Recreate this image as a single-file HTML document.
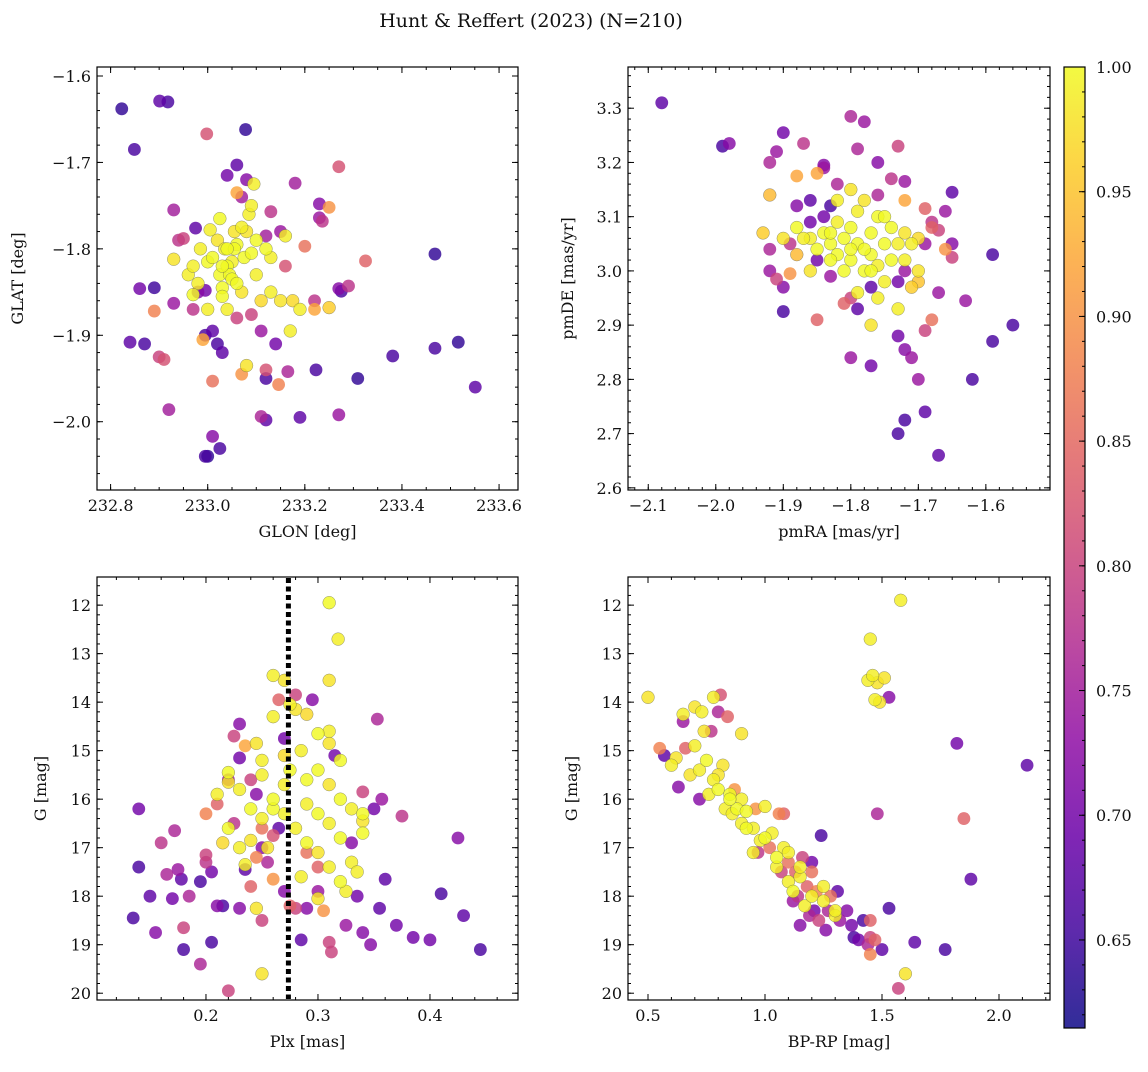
<!DOCTYPE html>
<html><head><meta charset="utf-8"><style>
body{margin:0;background:#fff}
svg text{font-family:"DejaVu Serif","Liberation Serif",serif;fill:#111}
</style></head><body>
<svg id="chart" xmlns="http://www.w3.org/2000/svg" width="1148" height="1067" viewBox="0 0 1148 1067">
<defs><linearGradient id="cg" x1="0" y1="1" x2="0" y2="0"></linearGradient></defs>
<text x="531" y="27" font-size="19" text-anchor="middle">Hunt &amp; Reffert (2023) (N=210)</text>
</svg>
<script>
const tlData=[[232.823,-1.638,.64],[232.849,-1.685,.66],[232.901,-1.629,.68],[232.918,-1.630,.66],[233.078,-1.662,.64],[232.998,-1.667,.82],[232.89,-1.845,.65],[232.86,-1.846,.7],[232.84,-1.908,.68],[232.87,-1.91,.66],[232.89,-1.872,.88],[232.90,-1.925,.8],[232.91,-1.928,.82],[232.92,-1.986,.75],[232.995,-2.04,.66],[233.0,-2.04,.64],[233.01,-2.017,.72],[233.025,-2.031,.66],[233.468,-1.806,.64],[233.381,-1.924,.66],[233.468,-1.915,.66],[233.516,-1.908,.64],[233.551,-1.96,.68],[233.309,-1.95,.64],[233.27,-1.992,.74],[233.19,-1.995,.68],[233.12,-1.998,.68],[233.11,-1.994,.76],[233.165,-1.942,.76],[233.223,-1.94,.66],[233.146,-1.957,.88],[233.27,-1.705,.82],[233.18,-1.724,.75],[233.23,-1.748,.72],[233.23,-1.764,.74],[233.236,-1.768,.78],[233.325,-1.814,.84],[233.27,-1.846,.72],[233.275,-1.849,.66],[233.29,-1.843,.78],[232.93,-1.755,.75],[232.94,-1.79,.78],[232.95,-1.788,.8],[232.93,-1.863,.74],[232.975,-1.776,.68],[232.995,-1.848,.7],[232.98,-1.85,.72],[232.995,-1.9,.66],[233.01,-1.895,.68],[233.02,-1.91,.66],[233.01,-1.953,.86],[233.03,-1.92,.68],[233.07,-1.945,.9],[233.12,-1.95,.66],[233.12,-1.94,.82],[233.14,-1.91,.7],[233.04,-1.715,.7],[233.06,-1.703,.68],[233.08,-1.72,.72],[233.06,-1.735,.92],[233.07,-1.74,.75],[233.13,-1.757,.78],[233.15,-1.78,.74],[233.16,-1.82,.82],[233.2,-1.797,.86],[233.22,-1.86,.78],[233.22,-1.87,.92],[233.25,-1.868,.96],[233.25,-1.752,.9],[233.12,-1.785,.75],[233.11,-1.895,.74],[233.09,-1.876,.8],[233.06,-1.88,.8],[232.97,-1.87,.78],[232.99,-1.905,.92],[232.93,-1.812,.98],[232.96,-1.83,.99],[232.97,-1.853,1],[232.985,-1.8,.99],[233.0,-1.815,1],[233.005,-1.778,.99],[233.01,-1.81,1],[233.02,-1.79,.98],[233.025,-1.83,1],[233.03,-1.845,1],[233.035,-1.8,.99],[233.04,-1.82,1],[233.045,-1.83,1],[233.05,-1.835,1],[233.05,-1.815,.99],[233.055,-1.78,.98],[233.06,-1.795,1],[233.06,-1.84,1],[233.07,-1.775,.99],[233.075,-1.81,1],[233.08,-1.78,.98],[233.085,-1.76,.99],[233.09,-1.75,.99],[233.09,-1.805,1],[233.1,-1.83,.99],[233.1,-1.79,1],[233.12,-1.8,1],[233.13,-1.85,.99],[233.15,-1.86,.98],[233.16,-1.785,.99],[233.17,-1.895,.99],[233.19,-1.87,.99],[233.175,-1.86,.97],[233.08,-1.935,.98],[233.0,-1.87,.99],[232.97,-1.82,.99],[233.025,-1.765,1],[233.03,-1.855,1],[233.07,-1.85,.98],[233.11,-1.86,.97],[233.04,-1.87,.99],[232.98,-1.84,.99],[233.095,-1.725,.99],[233.13,-1.81,.99],[233.055,-1.8,1],[233.04,-1.8,1],[233.03,-1.82,1]];
const trData=[[-2.08,3.31,.68],[-1.99,3.23,.66],[-1.98,3.235,.72],[-1.9,3.255,.7],[-1.92,3.2,.76],[-1.91,3.22,.74],[-1.87,3.235,.78],[-1.84,3.19,.74],[-1.84,3.195,.72],[-1.82,3.16,.76],[-1.8,3.285,.76],[-1.78,3.275,.74],[-1.79,3.225,.76],[-1.76,3.2,.72],[-1.73,3.23,.8],[-1.74,3.17,.78],[-1.72,3.165,.74],[-1.65,3.145,.68],[-1.66,3.11,.74],[-1.59,3.03,.66],[-1.56,2.9,.66],[-1.59,2.87,.66],[-1.62,2.8,.66],[-1.63,2.945,.74],[-1.67,2.96,.74],[-1.68,2.91,.86],[-1.69,2.89,.8],[-1.7,2.8,.74],[-1.69,2.74,.68],[-1.67,2.66,.68],[-1.72,2.725,.66],[-1.73,2.7,.66],[-1.71,2.84,.74],[-1.72,2.855,.72],[-1.73,2.88,.7],[-1.77,2.825,.7],[-1.8,2.84,.74],[-1.85,2.91,.84],[-1.9,2.925,.66],[-1.9,2.97,.72],[-1.92,3.0,.74],[-1.92,3.04,.76],[-1.91,2.985,.8],[-1.89,2.995,.9],[-1.93,3.07,.96],[-1.92,3.14,.94],[-1.88,3.175,.92],[-1.85,3.18,.92],[-1.86,3.13,.68],[-1.88,3.12,.72],[-1.84,3.1,.7],[-1.83,3.12,.66],[-1.86,3.09,.7],[-1.76,3.14,.76],[-1.68,3.09,.78],[-1.67,3.075,.8],[-1.68,3.08,.84],[-1.65,3.05,.72],[-1.65,3.025,.8],[-1.66,3.04,.9],[-1.72,3.13,.92],[-1.69,3.115,.84],[-1.69,3.05,.74],[-1.72,3.0,.74],[-1.73,2.98,.7],[-1.77,2.97,.68],[-1.79,2.93,.68],[-1.81,2.94,.84],[-1.8,2.95,.8],[-1.83,2.99,.74],[-1.85,3.02,.7],[-1.88,3.03,.94],[-1.89,3.05,.78],[-1.9,3.06,.98],[-1.88,3.08,1],[-1.86,3.06,.99],[-1.85,3.04,1],[-1.84,3.07,1],[-1.83,3.05,1],[-1.82,3.09,.99],[-1.82,3.03,1],[-1.81,3.06,1],[-1.8,3.08,1],[-1.8,3.02,1],[-1.79,3.11,.99],[-1.79,3.05,1],[-1.78,3.13,.98],[-1.78,3.0,1],[-1.77,3.07,1],[-1.77,3.03,1],[-1.76,3.1,1],[-1.76,3.01,.99],[-1.75,3.05,1],[-1.75,2.98,.99],[-1.74,3.08,1],[-1.74,3.02,1],[-1.73,3.05,.99],[-1.72,3.07,.98],[-1.71,3.05,.99],[-1.7,3.06,.97],[-1.72,3.02,.99],[-1.76,2.95,.99],[-1.77,2.9,.98],[-1.79,2.96,.99],[-1.81,3.0,1],[-1.83,3.02,1],[-1.86,3.0,.98],[-1.87,3.06,.99],[-1.8,3.15,.98],[-1.82,3.13,.99],[-1.73,2.93,.99],[-1.7,3.0,.98],[-1.78,3.04,1],[-1.8,3.04,1],[-1.83,3.07,1],[-1.75,3.1,1],[-1.77,3.0,1],[-1.71,2.97,.96],[-1.7,2.98,.95]];
const blData=[[0.135,18.45,.66],[0.14,17.4,.66],[0.14,16.2,.7],[0.15,18.0,.68],[0.155,18.75,.72],[0.16,16.9,.78],[0.165,17.55,.76],[0.17,18.05,.7],[0.175,17.45,.74],[0.172,16.65,.76],[0.178,17.65,.68],[0.18,19.1,.66],[0.18,18.65,.8],[0.185,18.0,.76],[0.195,17.7,.66],[0.195,19.4,.76],[0.2,17.3,.78],[0.205,17.5,.7],[0.205,18.95,.66],[0.2,17.15,.8],[0.21,18.2,.72],[0.215,18.2,.66],[0.22,19.95,.8],[0.23,18.25,.72],[0.235,17.45,.68],[0.24,17.8,.84],[0.25,18.5,.8],[0.25,17.0,.72],[0.255,17.3,.76],[0.26,17.65,.9],[0.265,16.6,.68],[0.27,17.9,.72],[0.275,18.2,.84],[0.28,18.25,.8],[0.285,18.9,.68],[0.29,18.25,.72],[0.3,17.9,.74],[0.305,18.3,.9],[0.31,18.95,.8],[0.312,19.15,.8],[0.325,18.6,.74],[0.335,18.0,.7],[0.34,18.75,.72],[0.347,19.0,.72],[0.35,16.2,.7],[0.353,14.35,.76],[0.355,18.25,.68],[0.357,16.0,.74],[0.36,17.65,.68],[0.37,18.6,.7],[0.375,16.35,.78],[0.385,18.85,.7],[0.4,18.9,.7],[0.41,17.95,.66],[0.425,16.8,.72],[0.43,18.4,.68],[0.445,19.1,.66],[0.23,14.45,.72],[0.225,14.7,.8],[0.23,15.15,.7],[0.22,15.6,.74],[0.225,16.5,.78],[0.24,15.6,.8],[0.245,15.9,.72],[0.235,14.9,.92],[0.27,14.75,.7],[0.265,13.95,.84],[0.28,13.85,.8],[0.295,13.95,.72],[0.33,16.9,.72],[0.34,15.85,.8],[0.315,15.1,.7],[0.2,16.3,.88],[0.21,16.1,.84],[0.25,16.6,.86],[0.26,16.75,.82],[0.245,17.2,.88],[0.29,17.1,.86],[0.3,17.4,.84],[0.31,11.95,1],[0.318,12.7,.99],[0.31,13.55,.98],[0.26,13.45,.99],[0.27,13.55,.98],[0.275,14.05,.99],[0.28,14.15,.98],[0.29,14.25,.97],[0.3,14.65,1],[0.31,14.6,.99],[0.31,14.85,.98],[0.285,15.0,.99],[0.27,15.1,.97],[0.25,15.2,.99],[0.22,15.45,1],[0.22,15.65,.98],[0.23,15.8,.99],[0.24,16.2,1],[0.25,16.4,.99],[0.26,16.2,1],[0.27,15.7,.99],[0.29,16.1,.99],[0.3,15.4,1],[0.31,15.7,.98],[0.32,16.0,1],[0.33,16.2,.99],[0.34,16.45,.98],[0.34,16.7,1],[0.33,17.3,.99],[0.32,17.7,1],[0.31,17.4,.99],[0.3,17.1,.98],[0.29,16.9,1],[0.28,16.6,.99],[0.27,16.3,.99],[0.26,16.0,1],[0.25,15.5,.99],[0.245,14.85,.98],[0.23,17.0,.99],[0.24,16.85,.98],[0.235,17.35,.99],[0.22,16.6,1],[0.21,15.9,.99],[0.3,16.3,1],[0.31,16.5,.99],[0.32,16.8,1],[0.285,17.6,.99],[0.245,18.25,.98],[0.25,19.6,.98],[0.32,15.2,1],[0.26,14.3,.99],[0.275,15.4,1],[0.335,17.5,.99],[0.325,17.9,.99],[0.3,18.05,.98],[0.29,15.6,1],[0.34,16.3,1],[0.255,17.0,.98],[0.215,16.9,.97]];
const brData=[[0.5,13.9,.98],[0.55,14.95,.88],[0.57,15.1,.68],[0.6,15.3,.99],[0.62,15.15,.98],[0.63,15.75,.72],[0.65,14.4,.74],[0.65,14.25,.99],[0.66,14.95,.84],[0.68,15.5,.98],[0.7,14.1,.98],[0.7,14.9,.99],[0.72,15.4,.99],[0.72,16.0,.72],[0.73,14.2,.99],[0.74,14.6,.98],[0.75,15.2,1],[0.76,15.9,.99],[0.77,14.6,.78],[0.78,15.6,.99],[0.78,13.9,.99],[0.8,14.2,.76],[0.8,15.8,1],[0.81,13.85,.82],[0.82,15.3,.98],[0.83,16.2,.99],[0.84,14.3,.84],[0.85,15.9,1],[0.86,16.3,.99],[0.87,15.8,.9],[0.88,16.2,1],[0.9,14.65,.98],[0.9,16.0,.99],[0.9,16.5,.99],[0.92,16.25,1],[0.95,16.6,.99],[0.96,16.2,.9],[0.97,17.1,.78],[0.98,16.85,.99],[1.0,16.15,.99],[1.0,16.8,1],[1.02,17.0,.86],[1.03,16.7,.99],[1.05,17.2,1],[1.06,16.3,.88],[1.07,17.5,.8],[1.08,17.0,.99],[1.1,17.3,.86],[1.1,17.7,.99],[1.12,17.9,1],[1.13,17.5,.84],[1.14,18.0,.78],[1.15,17.6,.99],[1.16,17.2,.8],[1.17,18.2,.99],[1.18,17.8,.84],[1.19,18.4,.76],[1.2,18.0,.99],[1.2,17.5,.86],[1.21,18.3,.7],[1.22,17.9,.88],[1.23,18.5,.8],[1.24,16.75,.66],[1.25,18.1,.99],[1.26,18.7,.72],[1.27,18.3,.76],[1.28,18.0,.86],[1.3,18.4,.99],[1.31,17.9,.68],[1.32,18.5,.74],[1.35,18.3,.72],[1.37,18.6,.7],[1.38,18.85,.66],[1.4,18.9,.7],[1.42,18.5,.66],[1.44,19.0,.76],[1.45,19.2,.88],[1.45,18.85,.8],[1.47,18.9,.84],[1.5,19.1,.68],[1.53,18.25,.66],[1.57,19.9,.8],[1.6,19.6,.98],[1.64,18.95,.68],[1.77,19.1,.66],[1.88,17.65,.68],[1.82,14.85,.7],[1.85,16.4,.84],[2.12,15.3,.68],[1.53,13.9,.72],[1.48,16.3,.76],[1.58,11.9,.99],[1.45,12.7,.99],[1.44,13.55,.99],[1.46,13.45,.99],[1.48,13.6,.98],[1.51,13.5,.98],[1.47,13.95,.99],[1.49,14.0,.98],[0.95,17.1,.99],[1.1,17.1,.99],[1.15,17.4,.99],[1.25,17.8,.99],[1.3,18.3,.99],[0.85,16.0,1],[0.8,15.5,.98],[0.92,16.6,1],[1.05,17.4,.99],[1.2,17.3,.7],[1.12,18.1,.74],[1.08,16.3,.84],[1.15,18.6,.72],[1.45,18.5,.84]];
const plxLine=0.2736;
const cbTicks=[0.65,0.70,0.75,0.80,0.85,0.90,0.95,1.00];
const cbMin=0.6147, cbMax=1.0;

const NS="http://www.w3.org/2000/svg";
const svg=document.getElementById('chart');
function mk(tag,attrs,parent){const e=document.createElementNS(NS,tag);for(const k in attrs)e.setAttribute(k,attrs[k]);(parent||svg).appendChild(e);return e;}
const stops=[[0,"#0d0887"],[.1,"#41049d"],[.2,"#6a00a8"],[.3,"#8f0da4"],[.4,"#b12a90"],[.5,"#cc4778"],[.6,"#e16462"],[.7,"#f2844b"],[.8,"#fca636"],[.9,"#fcce25"],[1,"#f0f921"]];
function hx(h){return [1,3,5].map(i=>parseInt(h.substr(i,2),16));}
function plasma(t){t=Math.max(0,Math.min(1,t));for(let i=1;i<stops.length;i++){if(t<=stops[i][0]){const a=stops[i-1],b=stops[i];const f=(t-a[0])/(b[0]-a[0]);const c1=hx(a[1]),c2=hx(b[1]);return "rgb("+c1.map((v,j)=>Math.round(v+(c2[j]-v)*f)).join(",")+")";}}return stops[10][1];}
function col(p){return plasma((p-cbMin)/(cbMax-cbMin));}
const grad=document.getElementById('cg');
for(let i=0;i<=20;i++){mk('stop',{offset:(i/20),'stop-color':plasma(i/20),'stop-opacity':0.85},grad);}
function fmt(v,d){let s=v.toFixed(d);return s.replace('-','\u2212');}

function panel(name,box,xr,yr,xMaj,xMin,yMaj,yMin,xd,yd,xlab,ylab,data,yInvert,yTitleX){
  const [L,T,R,B]=box;
  const g=mk('g',{});
  
  
  const sx=v=>L+(v-xr[0])/(xr[1]-xr[0])*(R-L);
  const sy=yInvert?(v=>T+(v-yr[0])/(yr[1]-yr[0])*(B-T)):(v=>B-(v-yr[0])/(yr[1]-yr[0])*(B-T));
  const cp=mk('clipPath',{id:'cp-'+name},g);mk('rect',{x:L,y:T,width:R-L,height:B-T},cp);
  const pts=mk('g',{'clip-path':'url(#cp-'+name+')'},g);
  
  
  const sorted=data.slice().sort((a,b)=>a[2]-b[2]);
  for(const d of sorted){
    const c=mk('circle',{cx:sx(d[0]),cy:sy(d[1]),r:6.4,fill:col(d[2]),'fill-opacity':0.82,stroke:'#555','stroke-width':0.45,'stroke-opacity':d[2]>0.93?0.7:0},pts);
    
    
  }
  const ax=mk('g',{},g);
  
  
  mk('rect',{x:L,y:T,width:R-L,height:B-T,fill:'none',stroke:'#000','stroke-width':1.2},ax);
  function ticks(min,max,step){const out=[];const s=Math.ceil(min/step-1e-9);for(let k=s;k*step<=max+1e-9;k++)out.push(k*step);return out;}
  ticks(xr[0],xr[1],xMin).forEach(v=>{const x=sx(v);mk('line',{x1:x,x2:x,y1:B,y2:B-3,stroke:'#000'},ax);mk('line',{x1:x,x2:x,y1:T,y2:T+3,stroke:'#000'},ax);});
  ticks(xr[0],xr[1],xMaj).forEach(v=>{const x=sx(v);mk('line',{x1:x,x2:x,y1:B,y2:B-6,stroke:'#000'},ax);mk('line',{x1:x,x2:x,y1:T,y2:T+6,stroke:'#000'},ax);
    const t=mk('text',{x:x,y:B+21,'font-size':16,'text-anchor':'middle'},ax);t.textContent=fmt(v,xd);
    
    });
  const ylo=Math.min(yr[0],yr[1]),yhi=Math.max(yr[0],yr[1]);
  ticks(ylo,yhi,yMin).forEach(v=>{const y=sy(v);mk('line',{x1:L,x2:L+3,y1:y,y2:y,stroke:'#000'},ax);mk('line',{x1:R,x2:R-3,y1:y,y2:y,stroke:'#000'},ax);});
  ticks(ylo,yhi,yMaj).forEach(v=>{const y=sy(v);mk('line',{x1:L,x2:L+6,y1:y,y2:y,stroke:'#000'},ax);mk('line',{x1:R,x2:R-6,y1:y,y2:y,stroke:'#000'},ax);
    const t=mk('text',{x:L-6,y:y+6,'font-size':16,'text-anchor':'end'},ax);t.textContent=fmt(v,yd);
    
    });
  const xl=mk('text',{x:(L+R)/2,y:B+47,'font-size':16,'text-anchor':'middle'},g);xl.textContent=xlab;
  
  
  const yx=yTitleX;
  const yl=mk('text',{x:yx,y:(T+B)/2,'font-size':16,'text-anchor':'middle',transform:'rotate(-90 '+yx+' '+(T+B)/2+')'},g);yl.textContent=ylab;
  
  
  return {sx,sy,g};
}
panel('glon-glat-panel',[97,67,518,490],[232.772,233.639],[-2.079,-1.5896],0.2,0.05,0.1,0.02,1,1,'GLON [deg]','GLAT [deg]',tlData,false,23);
panel('pm-panel',[628,67,1050,490],[-2.130,-1.505],[2.596,3.376],0.1,0.02,0.1,0.02,1,1,'pmRA [mas/yr]','pmDE [mas/yr]',trData,false,573);
const bl=panel('plx-g-panel',[97,577,518,1000],[0.1027,0.4786],[11.42,20.14],0.1,0.02,1,0.2,1,0,'Plx [mas]','G [mag]',blData,true,46);
panel('cmd-panel',[628,577,1050,1000],[0.4145,2.218],[11.42,20.14],0.5,0.1,1,0.2,1,0,'BP-RP [mag]','G [mag]',brData,true,577);
const ln=mk('line',{x1:bl.sx(plxLine),x2:bl.sx(plxLine),y1:578,y2:999,stroke:'#000','stroke-width':5,'stroke-dasharray':'5,3.5'},bl.g);


const cb=mk('g',{});


const CT=67,CB=1028,CL=1064,CR=1085;
mk('rect',{x:CL,y:CT,width:CR-CL,height:CB-CT,fill:'url(#cg)',stroke:'#000','stroke-width':1.2},cb);
const cy=v=>CB-(v-cbMin)/(cbMax-cbMin)*(CB-CT);
for(let k=62;k<=100;k++){const y=cy(k/100);mk('line',{x1:CR,x2:CR-3,y1:y,y2:y,stroke:'#000'},cb);}
cbTicks.forEach(v=>{const y=cy(v);mk('line',{x1:CR,x2:CR-6,y1:y,y2:y,stroke:'#000'},cb);
  const t=mk('text',{x:1096,y:y+6,'font-size':16},cb);t.textContent=v.toFixed(2);
  
  });
</script>
</body></html>
